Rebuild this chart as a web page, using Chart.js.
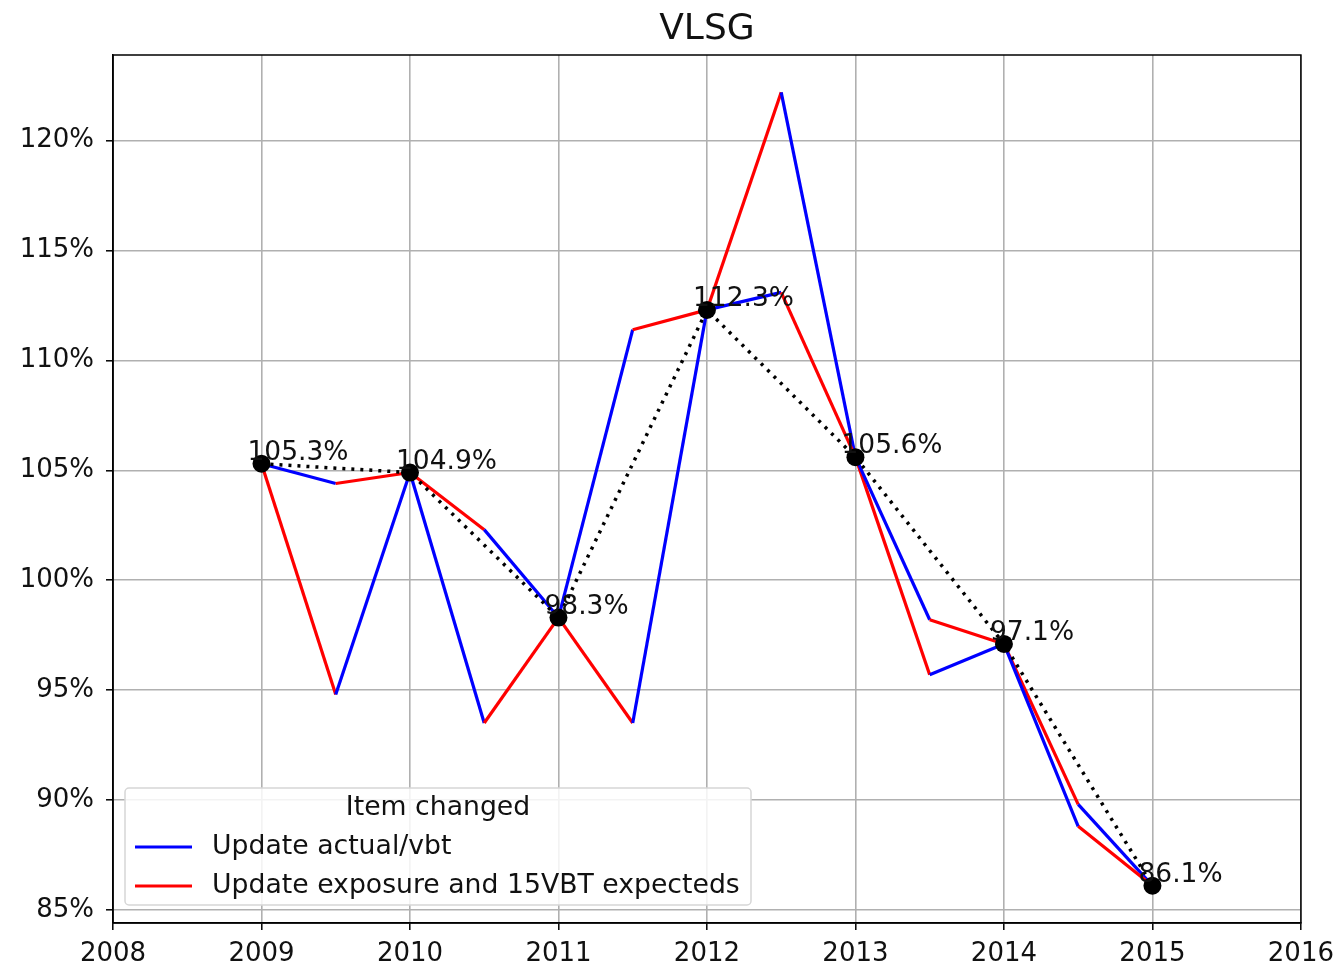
<!DOCTYPE html>
<html>
<head>
<meta charset="utf-8">
<title>VLSG</title>
<script src="https://cdn.jsdelivr.net/npm/chart.js@4.4.0/dist/chart.umd.min.js"></script>
<style>
  html, body { margin: 0; padding: 0; background: #fff; }
  #wrap { position: relative; width: 1343px; height: 970px; }
</style>
</head>
<body>
<div id="wrap"><canvas id="chart"></canvas></div>
<script>
// values, in percent
const years = [2009, 2010, 2011, 2012, 2013, 2014, 2015];
const totals = [105.3, 104.9, 98.3, 112.3, 105.6, 97.1, 86.1];
// half-way value in each year when the actual/vbt update is applied first
const actualFirstMid = [104.4, 93.5, 111.4, 113.1, 98.2, 88.8];
// half-way value in each year when the exposure update is applied first
const exposureFirstMid = [94.8, 102.3, 93.5, 122.2, 95.7, 89.8];
const yTicks = [85, 90, 95, 100, 105, 110, 115, 120];
const chartTitle = "VLSG";
const legendTitle = "Item changed";
const legendLabels = ["Update actual/vbt", "Update exposure and 15VBT expecteds"];

const BLUE = "#0000ff";
const RED = "#ff0000";
const FONT = "'DejaVu Sans', Verdana, sans-serif";

// total -> mid step -> next total, for every year
function buildPath(mids) {
  const pts = [];
  years.forEach((yr, i) => {
    pts.push({ x: yr, y: totals[i] });
    if (i < mids.length) pts.push({ x: yr + 0.5, y: mids[i] });
  });
  return pts;
}

// first half of each year in one colour, second half in the other
function stepColour(first, second) {
  return ctx => (ctx.p0DataIndex % 2 === 0 ? first : second);
}

// title centred over the axes, like matplotlib does it
const axesTitle = {
  id: "axesTitle",
  afterDraw(chart) {
    const { ctx, chartArea: a } = chart;
    ctx.save();
    ctx.font = "36px " + FONT;
    ctx.fillStyle = "#111";
    ctx.textAlign = "center";
    ctx.textBaseline = "alphabetic";
    ctx.fillText(chartTitle, (a.left + a.right) / 2, a.top - 16);
    ctx.restore();
  }
};

const frame = {
  id: "frame",
  afterDatasetsDraw(chart) {
    const { ctx, chartArea: a } = chart;
    ctx.save();
    ctx.strokeStyle = "#000";
    ctx.lineWidth = 1.5;
    ctx.strokeRect(a.left, a.top, a.right - a.left, a.bottom - a.top);
    ctx.restore();
  }
};

const pointLabels = {
  id: "pointLabels",
  afterDatasetsDraw(chart) {
    const { ctx } = chart;
    const meta = chart.getDatasetMeta(0);
    ctx.save();
    ctx.font = "26.5px " + FONT;
    ctx.fillStyle = "#111";
    ctx.textAlign = "left";
    ctx.textBaseline = "alphabetic";
    meta.data.forEach((pt, i) => {
      ctx.fillText(totals[i].toFixed(1) + "%", pt.x - 14, pt.y - 4);
    });
    ctx.restore();
  }
};

// matplotlib style legend in the lower left corner of the plot
const boxLegend = {
  id: "boxLegend",
  afterDraw(chart) {
    const { ctx, chartArea: a } = chart;
    const x = a.left + 12, w = 626, h = 117;
    const y = a.bottom - 18 - h;
    ctx.save();
    ctx.fillStyle = "rgba(255,255,255,0.85)";
    ctx.strokeStyle = "#d6d6d6";
    ctx.lineWidth = 1.5;
    ctx.beginPath();
    ctx.roundRect(x, y, w, h, 4);
    ctx.fill();
    ctx.stroke();

    ctx.font = "26.7px " + FONT;
    ctx.fillStyle = "#111";
    ctx.textBaseline = "middle";
    ctx.textAlign = "center";
    ctx.fillText(legendTitle, x + w / 2, y + 20);

    ctx.textAlign = "left";
    [BLUE, RED].forEach((c, i) => {
      const ly = y + 59 + i * 39;
      ctx.strokeStyle = c;
      ctx.lineWidth = 3;
      ctx.beginPath();
      ctx.moveTo(x + 10, ly);
      ctx.lineTo(x + 67, ly);
      ctx.stroke();
      ctx.fillText(legendLabels[i], x + 87, ly);
    });
    ctx.restore();
  }
};

new Chart(document.getElementById("chart"), {
  type: "line",
  data: {
    datasets: [
      {
        label: "Total",
        data: years.map((yr, i) => ({ x: yr, y: totals[i] })),
        borderColor: "#000",
        borderWidth: 3.5,
        borderDash: [3, 6],
        pointRadius: 9,
        pointBackgroundColor: "#000",
        pointBorderColor: "#000",
        pointBorderWidth: 0
      },
      {
        label: legendLabels[0] + " first",
        data: buildPath(actualFirstMid),
        borderWidth: 3.2,
        pointRadius: 0,
        segment: { borderColor: stepColour(BLUE, RED) }
      },
      {
        label: legendLabels[1] + " first",
        data: buildPath(exposureFirstMid),
        borderWidth: 3.2,
        pointRadius: 0,
        segment: { borderColor: stepColour(RED, BLUE) }
      }
    ]
  },
  options: {
    responsive: true,
    maintainAspectRatio: false,
    animation: false,
    layout: { padding: { left: 0, right: 39, top: 55, bottom: 0 } },
    plugins: {
      legend: { display: false },
      tooltip: { enabled: false },
      title: { display: false }
    },
    scales: {
      x: {
        type: "linear",
        min: 2008,
        max: 2016,
        afterFit: s => { s.height = 47; },
        ticks: {
          stepSize: 1,
          color: "#111",
          padding: 9,
          maxRotation: 0,
          font: { family: FONT, size: 26 },
          callback: v => String(v)
        },
        grid: { color: "#b0b0b0", lineWidth: 1.6, tickColor: "#000", tickLength: 7, tickWidth: 1.5 },
        border: { color: "#000", width: 1.5 }
      },
      y: {
        min: 84.4,
        max: 123.9,
        afterFit: s => { s.width = 113; },
        afterBuildTicks: s => { s.ticks = yTicks.map(v => ({ value: v })); },
        ticks: {
          color: "#111",
          padding: 12,
          font: { family: FONT, size: 26 },
          callback: v => v + "%"
        },
        grid: { color: "#b0b0b0", lineWidth: 1.6, tickColor: "#000", tickLength: 7, tickWidth: 1.5 },
        border: { color: "#000", width: 1.5 }
      }
    }
  },
  plugins: [axesTitle, frame, pointLabels, boxLegend]
});
</script>
</body>
</html>
